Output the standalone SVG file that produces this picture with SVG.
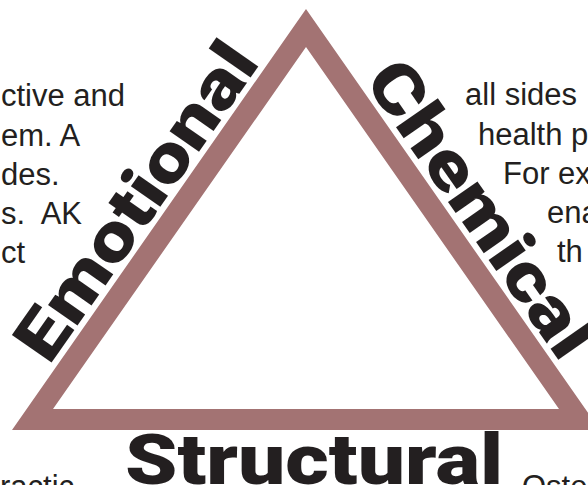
<svg xmlns="http://www.w3.org/2000/svg" width="588" height="485" viewBox="0 0 588 485">
<style>
.body{font-family:"Liberation Sans",Arial,sans-serif;font-size:31px;fill:#231f20}
.label{font-family:Roboto,"Liberation Sans",sans-serif;font-weight:900;font-size:68px;fill:#231f20}
</style>
<rect width="588" height="485" fill="#ffffff"/>
<g id="triangle">
<path d="M306 9 L12 430 L600 430 Z M306 47 L559 409 L53 409 Z" fill="#a37373" fill-rule="evenodd"/>
</g>
<g id="left-text">
<text class="body" x="1" y="106">ctive and</text>
<text class="body" x="1" y="146">em. A</text>
<text class="body" x="1" y="185">des.</text>
<text class="body" x="1" y="224" xml:space="preserve">s.  AK</text>
<text class="body" x="1" y="263">ct</text>
</g>
<g id="right-text">
<text class="body" x="465" y="105">all sides</text>
<text class="body" x="478" y="145">health p</text>
<text class="body" x="503" y="184">For ex</text>
<text class="body" x="547" y="223">ena</text>
<text class="body" x="557" y="262">th</text>
</g>
<g id="bottom-text">
<text class="body" x="0" y="497">ractic</text>
<text class="body" x="522" y="497">Oste</text>
</g>
<g id="emotional">
<text class="label" text-anchor="middle" textLength="370" lengthAdjust="spacingAndGlyphs" transform="translate(155 214.6) rotate(-55.07)">Emotional</text>
</g>
<g id="chemical">
<text class="label" text-anchor="middle" textLength="345" lengthAdjust="spacingAndGlyphs" transform="translate(462 222) rotate(55.07)">Chemical</text>
</g>
<g id="structural">
<text class="label" text-anchor="middle" style="font-size:70px" textLength="378" lengthAdjust="spacingAndGlyphs" x="314" y="484">Structural</text>
</g>
</svg>
